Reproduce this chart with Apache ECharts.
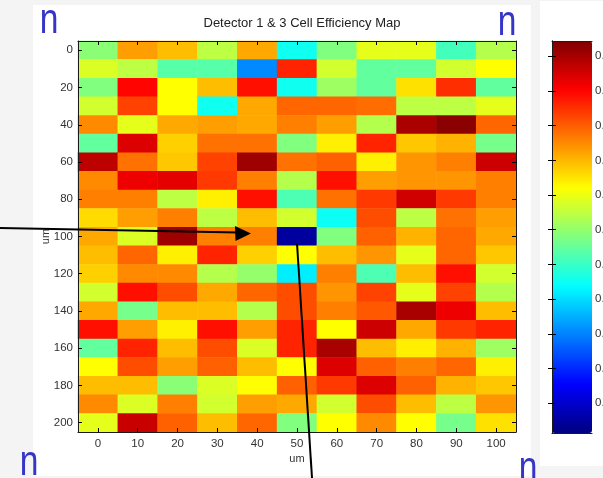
<!DOCTYPE html>
<html>
<head>
<meta charset="utf-8">
<style>
  html, body { margin: 0; padding: 0; background: #f4f4f4; }
  #main { width: 603px; height: 478px; }
</style>
<script src="https://cdn.jsdelivr.net/npm/echarts@6/dist/echarts.min.js"></script>
</head>
<body>
<div id="main"></div>
<script>
// Cell centres along each detector direction (um)
const xPositions = ['0', '10', '20', '30', '40', '50', '60', '70', '80', '90', '100'];
const yPositions = ['0', '10', '20', '30', '40', '50', '60', '70', '80', '90', '100',
  '110', '120', '130', '140', '150', '160', '170', '180', '190', '200'];

// Cell efficiency, one row per y position, columns follow xPositions
const efficiencyRows = [
  [0.595, 0.714, 0.697, 0.623, 0.708, 0.527, 0.590, 0.646, 0.646, 0.556, 0.618],
  [0.640, 0.623, 0.567, 0.567, 0.454, 0.782, 0.635, 0.573, 0.573, 0.635, 0.660],
  [0.590, 0.799, 0.660, 0.697, 0.793, 0.527, 0.606, 0.573, 0.677, 0.776, 0.573],
  [0.635, 0.765, 0.660, 0.527, 0.708, 0.745, 0.745, 0.742, 0.623, 0.623, 0.646],
  [0.725, 0.646, 0.708, 0.714, 0.708, 0.731, 0.714, 0.618, 0.849, 0.866, 0.745],
  [0.573, 0.821, 0.686, 0.739, 0.739, 0.590, 0.669, 0.782, 0.691, 0.703, 0.584],
  [0.838, 0.739, 0.691, 0.765, 0.855, 0.739, 0.748, 0.669, 0.719, 0.731, 0.830],
  [0.725, 0.810, 0.816, 0.770, 0.731, 0.618, 0.793, 0.714, 0.719, 0.719, 0.731],
  [0.731, 0.731, 0.623, 0.669, 0.793, 0.561, 0.739, 0.770, 0.827, 0.770, 0.731],
  [0.680, 0.714, 0.731, 0.623, 0.697, 0.635, 0.525, 0.759, 0.623, 0.739, 0.714],
  [0.708, 0.640, 0.855, 0.731, 0.731, 0.324, 0.590, 0.748, 0.703, 0.745, 0.708],
  [0.697, 0.745, 0.669, 0.782, 0.686, 0.660, 0.697, 0.719, 0.646, 0.745, 0.691],
  [0.686, 0.725, 0.725, 0.618, 0.601, 0.510, 0.731, 0.561, 0.697, 0.793, 0.635],
  [0.635, 0.793, 0.759, 0.708, 0.745, 0.759, 0.719, 0.765, 0.646, 0.765, 0.618],
  [0.708, 0.584, 0.697, 0.697, 0.618, 0.759, 0.731, 0.753, 0.849, 0.810, 0.697],
  [0.793, 0.714, 0.669, 0.793, 0.714, 0.782, 0.660, 0.830, 0.708, 0.770, 0.782],
  [0.573, 0.782, 0.697, 0.759, 0.640, 0.782, 0.849, 0.697, 0.669, 0.703, 0.606],
  [0.660, 0.759, 0.714, 0.748, 0.697, 0.660, 0.821, 0.748, 0.731, 0.745, 0.669],
  [0.697, 0.697, 0.595, 0.640, 0.660, 0.748, 0.770, 0.821, 0.748, 0.703, 0.691],
  [0.725, 0.640, 0.731, 0.635, 0.714, 0.708, 0.635, 0.759, 0.697, 0.623, 0.719],
  [0.646, 0.832, 0.748, 0.697, 0.745, 0.590, 0.660, 0.725, 0.660, 0.584, 0.677]
];

// Colour scale limits and colorbar ticks
const colorbarMin = 0.307;
const colorbarMax = 0.872;
const colorbarTicks = [0.35, 0.40, 0.45, 0.50, 0.55, 0.60, 0.65, 0.70, 0.75, 0.80, 0.85];

// Jet colormap, evenly spaced stops
const jetColors = ['#000080', '#0000ff', '#0080ff', '#00ffff', '#80ff80',
  '#ffff00', '#ff8000', '#ff0000', '#800000'];

const heatData = [];
efficiencyRows.forEach((row, yi) => {
  row.forEach((v, xi) => heatData.push([xi, yi, v]));
});

const FONT = 'Liberation Sans';
const PLOT = { left: 78, top: 41, width: 438, height: 391 };
const BAR = { left: 552, top: 41, width: 40, height: 392 };

const tickStyle = { show: true, inside: true, length: 4, lineStyle: { color: '#000', width: 1 } };
const lineStyle = { show: true, lineStyle: { color: '#1a1a1a', width: 1 } };
const labelStyle = { color: '#333', fontSize: 11.5, fontFamily: FONT };

const chart = echarts.init(document.getElementById('main'), null, { renderer: 'canvas' });

chart.setOption({
  animation: false,
  backgroundColor: '#f4f4f4',
  textStyle: { fontFamily: FONT },
  title: {
    text: 'Detector 1 & 3 Cell Efficiency Map',
    left: 297, top: 12, textAlign: 'center',
    textStyle: { fontSize: 13, fontWeight: 'normal', color: '#222', fontFamily: FONT }
  },
  grid: [
    { left: PLOT.left, top: PLOT.top, width: PLOT.width, height: PLOT.height, containLabel: false, outerBoundsMode: 'none' },
    { left: BAR.left, top: BAR.top, width: BAR.width, height: BAR.height, containLabel: false, outerBoundsMode: 'none' }
  ],
  xAxis: [
    {
      type: 'category', gridIndex: 0, data: xPositions, position: 'bottom', z: 10,
      axisLine: lineStyle,
      axisTick: Object.assign({ alignWithLabel: true, interval: 0 }, tickStyle),
      axisLabel: Object.assign({ interval: 0, margin: 6 }, labelStyle),
      splitLine: { show: false },
      name: 'um', nameLocation: 'middle', nameGap: 21, nameMoveOverlap: false,
      nameTextStyle: { color: '#333', fontSize: 11, fontFamily: FONT }
    },
    {
      type: 'category', gridIndex: 0, data: xPositions, position: 'top', z: 10,
      axisLine: lineStyle,
      axisTick: Object.assign({ alignWithLabel: true, interval: 0 }, tickStyle),
      axisLabel: { show: false },
      splitLine: { show: false }
    },
    {
      type: 'value', gridIndex: 1, position: 'bottom', z: 10,
      axisLine: lineStyle, axisTick: { show: false }, axisLabel: { show: false },
      splitLine: { show: false }
    },
    {
      type: 'value', gridIndex: 1, position: 'top', z: 10,
      axisLine: lineStyle, axisTick: { show: false }, axisLabel: { show: false },
      splitLine: { show: false }
    }
  ],
  yAxis: [
    {
      type: 'category', gridIndex: 0, data: yPositions, inverse: true, position: 'left', z: 10,
      axisLine: lineStyle,
      axisTick: Object.assign({ alignWithLabel: true, interval: 1 }, tickStyle),
      axisLabel: Object.assign({ interval: 1, margin: 5 }, labelStyle),
      splitLine: { show: false },
      name: 'um', nameLocation: 'middle', nameGap: 27, nameRotate: 90, nameMoveOverlap: false,
      nameTextStyle: { color: '#333', fontSize: 11, fontFamily: FONT }
    },
    {
      type: 'category', gridIndex: 0, data: yPositions, inverse: true, position: 'right', z: 10,
      axisLine: lineStyle,
      axisTick: Object.assign({ alignWithLabel: true, interval: 1 }, tickStyle),
      axisLabel: { show: false },
      splitLine: { show: false }
    },
    {
      type: 'value', gridIndex: 1, position: 'left', min: colorbarMin, max: colorbarMax, z: 10,
      axisLine: lineStyle,
      axisTick: Object.assign({ customValues: colorbarTicks }, tickStyle),
      axisLabel: { show: false },
      splitLine: { show: false }
    },
    {
      type: 'value', gridIndex: 1, position: 'right', min: colorbarMin, max: colorbarMax, z: 10,
      axisLine: lineStyle,
      axisTick: Object.assign({ customValues: colorbarTicks }, tickStyle),
      axisLabel: Object.assign({
        customValues: colorbarTicks, margin: 3, hideOverlap: false,
        formatter: v => v.toFixed(2)
      }, labelStyle),
      splitLine: { show: false }
    }
  ],
  visualMap: {
    type: 'continuous',
    seriesIndex: 0,
    dimension: 2,
    min: colorbarMin, max: colorbarMax,
    calculable: false, hoverLink: false,
    orient: 'vertical',
    left: BAR.left, top: BAR.top,
    itemWidth: BAR.width, itemHeight: BAR.height,
    padding: 0,
    text: null, showLabel: false,
    inRange: { color: jetColors },
    z: 4
  },
  series: [{
    type: 'heatmap',
    xAxisIndex: 0, yAxisIndex: 0,
    data: heatData,
    itemStyle: { borderWidth: 0 },
    emphasis: { disabled: true },
    progressive: 0
  }],
  graphic: [
    // figure panels
    { type: 'rect', z: -100, silent: true, shape: { x: 33, y: 5, width: 498, height: 471 }, style: { fill: '#ffffff' } },
    { type: 'rect', z: -100, silent: true, shape: { x: 540, y: 1, width: 63, height: 465 }, style: { fill: '#ffffff' } },
    // pointer lines
    { type: 'line', z: 100, silent: true, shape: { x1: 0, y1: 228, x2: 238, y2: 232.6 }, style: { stroke: '#000', lineWidth: 2 } },
    { type: 'polygon', z: 100, silent: true, shape: { points: [[251, 233.5], [235, 226], [235.5, 241]] }, style: { fill: '#000' } },
    { type: 'line', z: 100, silent: true, shape: { x1: 297, y1: 243, x2: 312, y2: 478 }, style: { stroke: '#000', lineWidth: 2 } },
    // corner marks
    { type: 'text', z: 100, silent: true, x: 49, y: 21, scaleX: 0.8, style: { text: 'n', font: '42px "Liberation Sans"', fill: '#3535c8', align: 'center', verticalAlign: 'middle' } },
    { type: 'text', z: 100, silent: true, x: 507, y: 23, scaleX: 0.8, style: { text: 'n', font: '42px "Liberation Sans"', fill: '#3535c8', align: 'center', verticalAlign: 'middle' } },
    { type: 'text', z: 100, silent: true, x: 29, y: 463, scaleX: 0.8, style: { text: 'n', font: '42px "Liberation Sans"', fill: '#3535c8', align: 'center', verticalAlign: 'middle' } },
    { type: 'text', z: 100, silent: true, x: 528, y: 469, scaleX: 0.8, style: { text: 'n', font: '42px "Liberation Sans"', fill: '#3535c8', align: 'center', verticalAlign: 'middle' } }
  ]
});
</script>
</body>
</html>
